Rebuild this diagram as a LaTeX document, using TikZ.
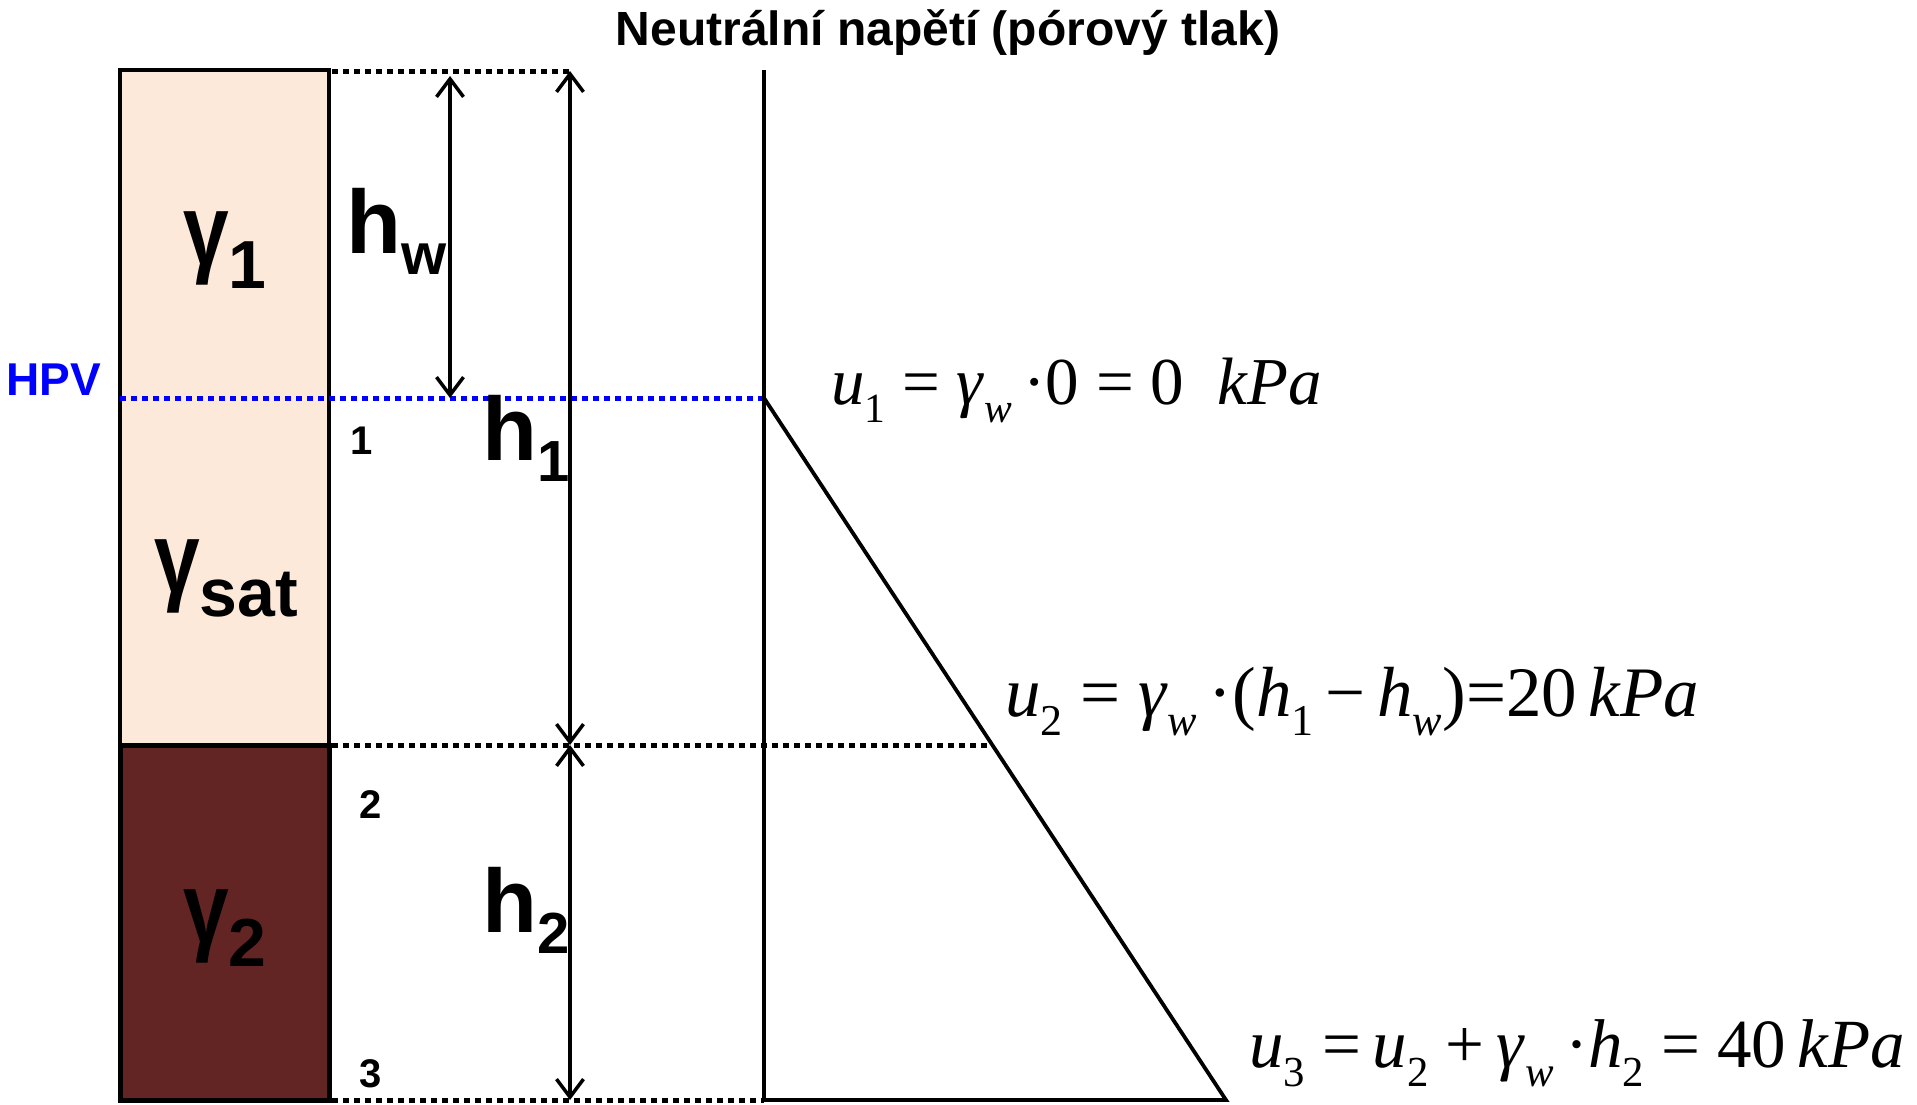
\documentclass[tikz,border=0pt]{standalone}
\usepackage{fontspec}
\setmainfont{Liberation Serif}
\setsansfont{Liberation Sans}
\usetikzlibrary{arrows.meta, positioning, calc}
\definecolor{dry}{HTML}{FDE9D9}
\definecolor{clay}{HTML}{632523}
\definecolor{hpvblue}{HTML}{0000FF}

% soil unit weight label and height label
\newcommand{\gsub}[1]{\scalebox{0.82}[1]{\fontsize{100}{100}\selectfont\bfseries γ}\raisebox{-24pt}{\fontsize{68}{68}\selectfont\sffamily\bfseries #1}}
\newcommand{\hsub}[1]{{\fontsize{90}{90}\selectfont\sffamily\bfseries h}\raisebox{-21pt}{\fontsize{58}{58}\selectfont\sffamily\bfseries #1}}
\newcommand{\sbs}[1]{\raisebox{-0.28em}{\fontsize{0.62em}{0.62em}\selectfont #1}}

\begin{document}
\begin{tikzpicture}[
    x=1pt, y=-1pt,
    dots/.style={line width=5pt, dash pattern=on 6pt off 5pt},
    dim/.style={{Straight Barb[length=18pt,width=27pt]}-{Straight Barb[length=18pt,width=27pt]}, line width=3.5pt},
    lab/.style={inner sep=0pt, anchor=base west, font=\sffamily\bfseries},
    eqn/.style={inner sep=0pt, anchor=base west},
]
\useasboundingbox (0,0) rectangle (1917,1104);

% soil column
\filldraw[fill=dry, line width=4pt] (120,70) rectangle (329,745);
\filldraw[fill=clay, line width=5pt] (120,745) rectangle (329,1100);

\coordinate (hwtop) at (450,76);
\coordinate (hwbot) at (450,398);
\coordinate (h1top) at (570,71);
\coordinate (h1bot) at (570,745);
\coordinate (h2bot) at (570,1100);
\coordinate (axtop) at (764,70);
\coordinate (axbot) at (764,1100);
\coordinate (p1) at (764,398);
\coordinate (p2) at (992,745);
\coordinate (p3) at (1226,1100);

\draw[dots] (332,71) -- (h1top);
\draw[dots, hpvblue] (120,398) -- (p1);
\draw[dots] (332,745) -- (p2);
\draw[dots] (332,1100) -- (axbot);

\draw[dim] (hwtop) -- (hwbot);
\draw[dim] (h1top) -- (h1bot);
\draw[dim] (h1bot) -- (h2bot);

% pore pressure diagram
\draw[line width=3.8pt] (axtop) -- (axbot);
\draw[line width=3.8pt, line join=miter] (p1) -- (p3) -- (axbot);

\node[lab, anchor=base] (title) at (948,45) {\fontsize{48}{48}\selectfont Neutrální napětí (pórový tlak)};
\node[lab, text=hpvblue] (hpv) at (6,395) {\fontsize{46}{46}\selectfont HPV};

\node[lab] (g1) at (183,264) {\gsub{1}};
\node[lab] (gsat) at (154,592) {\gsub{sat}};
\node[lab] (g2) at (183,942) {\gsub{2}};

\node[lab] (hw) at (346,253) {\hsub{w}};
\node[lab] (h1) at (482,460) {\hsub{1}};
\node[lab] (h2) at (482,932) {\hsub{2}};

\node[lab] (n1) at (350,454) {\fontsize{40}{40}\selectfont 1};
\node[lab] (n2) at (359,818) {\fontsize{40}{40}\selectfont 2};
\node[lab] (n3) at (359,1087) {\fontsize{40}{40}\selectfont 3};

\node[eqn] (u1) at (831,404) {\fontsize{67}{67}\selectfont
  \textit{u}\sbs{1} = \textit{γ}\sbs{\textit{w}}\,·0 = 0\ \ \textit{kPa}};
\node[eqn] (u2) at (1005,716) {\fontsize{71}{71}\selectfont
  \textit{u}\sbs{2} = \textit{γ}\sbs{\textit{w}}\,·(\textit{h}\sbs{1}\,−\,\textit{h}\sbs{\textit{w}})=20\,\textit{kPa}};
\node[eqn] (u3) at (1249,1067) {\fontsize{69}{69}\selectfont
  \textit{u}\sbs{3} =\,\textit{u}\sbs{2} +\,\textit{γ}\sbs{\textit{w}}\,·\textit{h}\sbs{2} = 40\,\textit{kPa}};
\end{tikzpicture}
\end{document}
